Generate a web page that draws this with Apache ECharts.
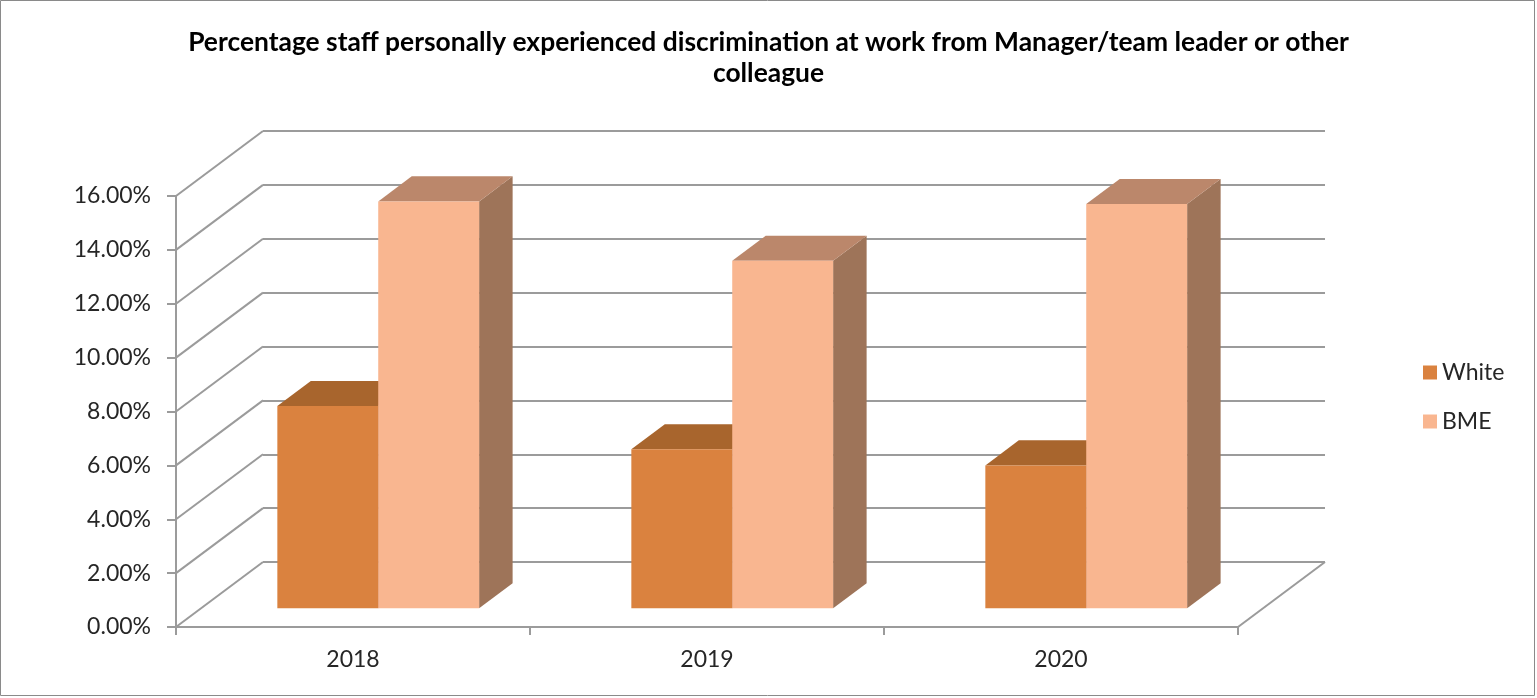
<!DOCTYPE html>
<html>
<head>
<meta charset="utf-8">
<title>Discrimination at work</title>
<script src="https://cdn.jsdelivr.net/npm/echarts@6/dist/echarts.min.js"></script>
<style>
  html, body { margin: 0; padding: 0; background: #fff; }
  #chart { width: 1537px; height: 698px; }
</style>
</head>
<body>
<div id="chart"></div>
<script>
// ---- data ----
const categories = ['2018', '2019', '2020'];
const seriesNames = ['White', 'BME'];
const whiteValues = [0.075, 0.059, 0.053];
const bmeValues = [0.151, 0.129, 0.150];
const yTickValues = [0, 0.02, 0.04, 0.06, 0.08, 0.10, 0.12, 0.14, 0.16];

// ---- layout: front plane of the box and oblique depth offset ----
const FRONT = { left: 176, right: 1238, top: 196, bottom: 627 };
const DEPTH_DX = 87, DEPTH_DY = -65;      // front plane -> back wall
const BAR_FRONT = 0.29;                  // bar front face, fraction of floor depth
const BAR_DEPTH = 0.385;                 // bar thickness, fraction of floor depth
const BAR_FRAC = 0.285;                  // bar width, fraction of category band

const COLORS = {
  White: { front: '#DA823F', top: '#A8652D', side: '#9A5A28' },
  BME:   { front: '#F9B690', top: '#BB876B', side: '#9E7459' }
};
const GRID_LINE = '#9b9b9b';
const TEXT = '#262626';
const FONT = 'Lato, "Liberation Sans", sans-serif';

const W = 1537, H = 698;

function barRenderer(k, name) {
  const c = COLORS[name];
  return function (params, api) {
    const cat = api.value(0), val = api.value(1);
    const top = api.coord([cat, val]);
    const base = api.coord([cat, 0]);
    const w = api.size([1, 0])[0] * BAR_FRAC;
    const sx = DEPTH_DX * BAR_FRONT, sy = DEPTH_DY * BAR_FRONT;
    const dx = DEPTH_DX * BAR_DEPTH, dy = DEPTH_DY * BAR_DEPTH;
    const x0 = top[0] - w + k * w + sx;
    const x1 = x0 + w;
    const yT = top[1] + sy, yB = base[1] + sy;
    return {
      type: 'group',
      children: [
        { type: 'polygon', shape: { points: [[x1, yT], [x1 + dx, yT + dy], [x1 + dx, yB + dy], [x1, yB]] },
          style: { fill: c.side } },
        { type: 'polygon', shape: { points: [[x0, yT], [x1, yT], [x1 + dx, yT + dy], [x0 + dx, yT + dy]] },
          style: { fill: c.top } },
        { type: 'rect', shape: { x: x0, y: yT, width: w, height: yB - yT },
          style: { fill: c.front } }
      ]
    };
  };
}

// side wall diagonals and right edge of the floor
function wallRenderer(params, api) {
  const cs = params.coordSys;
  const y = api.coord([0, api.value(0)])[1];
  const children = [
    { type: 'line', shape: { x1: cs.x, y1: y, x2: cs.x + DEPTH_DX, y2: y + DEPTH_DY },
      style: { stroke: GRID_LINE, lineWidth: 2 } }
  ];
  if (params.dataIndex === 0) {
    const xr = cs.x + cs.width;
    children.push({ type: 'line', shape: { x1: xr, y1: y, x2: xr + DEPTH_DX, y2: y + DEPTH_DY },
      style: { stroke: GRID_LINE, lineWidth: 2 } });
  }
  return { type: 'group', children };
}

const pct = v => (v * 100).toFixed(2) + '%';

const chart = echarts.init(document.getElementById('chart'), null, { renderer: 'canvas' });
chart.setOption({
  animation: false,
  backgroundColor: '#fff',
  title: {
    text: 'Percentage staff personally experienced discrimination at work from Manager/team leader or other\ncolleague',
    left: 'center',
    top: 27,
    padding: 0,
    textStyle: { fontFamily: FONT, fontWeight: 'bold', fontSize: 26.4, lineHeight: 31, color: '#000' }
  },
  legend: {
    orient: 'vertical',
    left: 1423,
    top: 361,
    padding: 0,
    itemWidth: 14,
    itemHeight: 14,
    itemGap: 26,
    icon: 'rect',
    data: seriesNames,
    textStyle: { fontFamily: FONT, fontSize: 23, color: TEXT }
  },
  grid: [
    { left: FRONT.left, top: FRONT.top, width: FRONT.right - FRONT.left, height: FRONT.bottom - FRONT.top,
      outerBoundsMode: 'none' },
    { left: FRONT.left + DEPTH_DX, top: FRONT.top + DEPTH_DY, width: FRONT.right - FRONT.left,
      height: FRONT.bottom - FRONT.top, outerBoundsMode: 'none' }
  ],
  xAxis: [
    { type: 'category', gridIndex: 0, data: categories,
      axisLine: { lineStyle: { color: GRID_LINE, width: 2 } },
      axisTick: { show: true, length: 8, lineStyle: { color: GRID_LINE, width: 2 } },
      axisLabel: { margin: 21, fontFamily: FONT, fontSize: 23, color: TEXT } },
    { type: 'category', gridIndex: 1, data: categories, show: false }
  ],
  yAxis: [
    { type: 'value', gridIndex: 0, min: 0, max: 0.16, interval: 0.02,
      axisLine: { show: true, lineStyle: { color: GRID_LINE, width: 2 } },
      axisTick: { show: true, length: 9, lineStyle: { color: GRID_LINE, width: 2 } },
      splitLine: { show: false },
      axisLabel: { margin: 25, formatter: pct, fontFamily: FONT, fontSize: 23, color: TEXT } },
    { type: 'value', gridIndex: 1, min: 0, max: 0.16, interval: 0.02,
      axisLine: { show: false }, axisTick: { show: false }, axisLabel: { show: false },
      splitLine: { show: true, lineStyle: { color: GRID_LINE, width: 2 } } }
  ],
  series: [
    { type: 'custom', name: 'walls', xAxisIndex: 0, yAxisIndex: 0, z: 1, silent: true,
      renderItem: wallRenderer, data: yTickValues.map(v => [v]) },
    { type: 'custom', name: 'White', xAxisIndex: 0, yAxisIndex: 0, z: 3,
      itemStyle: { color: COLORS.White.front },
      renderItem: barRenderer(0, 'White'), data: whiteValues.map((v, i) => [i, v]) },
    { type: 'custom', name: 'BME', xAxisIndex: 0, yAxisIndex: 0, z: 4,
      itemStyle: { color: COLORS.BME.front },
      renderItem: barRenderer(1, 'BME'), data: bmeValues.map((v, i) => [i, v]) }
  ],
  graphic: [
    { type: 'rect', shape: { x: 0.5, y: 0.5, width: W - 3, height: H - 3 },
      style: { fill: null, stroke: '#8a8a8a', lineWidth: 1 }, silent: true }
  ]
});
</script>
</body>
</html>
